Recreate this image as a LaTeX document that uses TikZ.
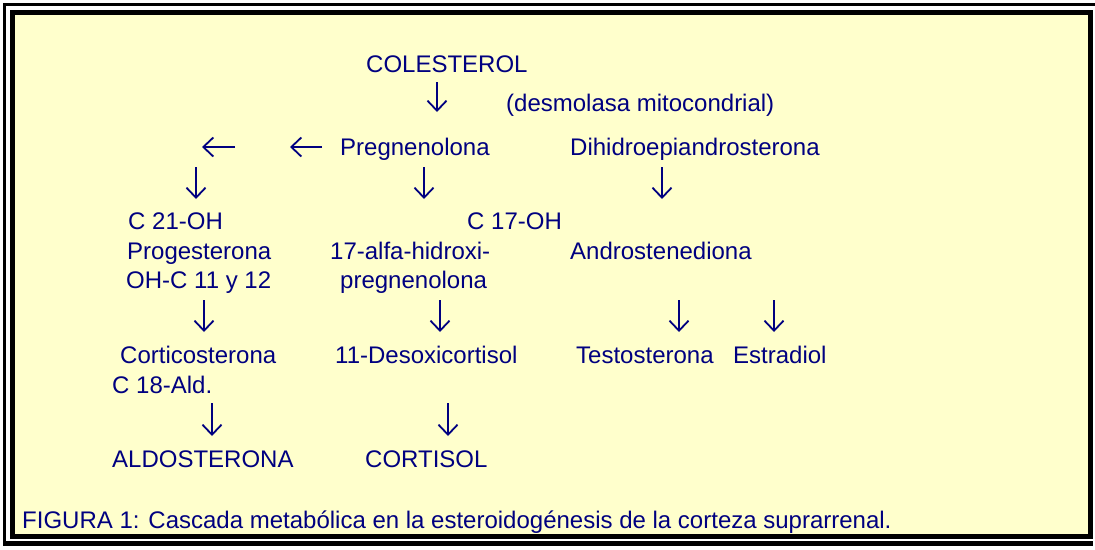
\documentclass[tikz,border=0pt]{standalone}
\usepackage{fontspec}
\setmainfont{Liberation Sans}
\usetikzlibrary{arrows.meta}
\definecolor{azul}{RGB}{0,0,128}
\definecolor{crema}{RGB}{255,255,204}
\tikzset{
    texto/.style={anchor=base west, inner sep=0pt, text=azul, font=\fontsize{24}{28}\selectfont},
    flecha/.style={draw=azul, line width=1.8pt, -{Straight Barb[length=10pt,width=19pt]}}
}
\begin{document}
\begin{tikzpicture}[x=1pt,y=-1pt]
    \useasboundingbox (0,0) rectangle (1095,549);
    % marco
    \draw[line width=3pt] (3,4.5) -- (1095,4.5);
    \draw[line width=3pt] (4.5,3) -- (4.5,546);
    \draw[line width=5pt] (3,543.5) -- (1093,543.5);
    \draw[line width=5pt, fill=crema] (12.5,12.5) rectangle (1090.5,536);

    % textos
    \node[texto] (colesterol) at (366,72) {COLESTEROL};
    \node[texto] (desmolasa) at (506,111) {(desmolasa mitocondrial)};
    \node[texto] (pregnenolona) at (340,155) {Pregnenolona};
    \node[texto] (dhea) at (570,155) {Dihidroepiandrosterona};
    \node[texto] (c21) at (128,229) {C 21-OH};
    \node[texto] (c17) at (467,229) {C 17-OH};
    \node[texto] (progesterona) at (127,259) {Progesterona};
    \node[texto] (hidroxi) at (330,259) {17-alfa-hidroxi-};
    \node[texto] (androstenediona) at (570,259) {Androstenediona};
    \node[texto] (ohc) at (126,288) {OH-C 11 y 12};
    \node[texto] (pregn2) at (340,288) {pregnenolona};
    \node[texto] (corticosterona) at (120,363) {Corticosterona};
    \node[texto] (desoxi) at (335,363) {11-Desoxicortisol};
    \node[texto] (testosterona) at (576,363) {Testosterona};
    \node[texto] (estradiol) at (733,363) {Estradiol};
    \node[texto] (c18) at (112,393) {C 18-Ald.};
    \node[texto] (aldosterona) at (112,467) {ALDOSTERONA};
    \node[texto] (cortisol) at (365,467) {CORTISOL};
    \node[texto] (figura) at (22,528) {FIGURA 1: Cascada metab\'olica en la esteroidog\'enesis de la corteza suprarrenal.};

    % flechas
    \coordinate (f1a) at (437,82);  \coordinate (f1b) at (437,112);
    \coordinate (h1a) at (235,147); \coordinate (h1b) at (202,147);
    \coordinate (h2a) at (322,147); \coordinate (h2b) at (290,147);
    \coordinate (f2a) at (196,167); \coordinate (f2b) at (196,199);
    \coordinate (f3a) at (424,167); \coordinate (f3b) at (424,199);
    \coordinate (f4a) at (662,167); \coordinate (f4b) at (662,199);
    \coordinate (f5a) at (204,300); \coordinate (f5b) at (204,332);
    \coordinate (f6a) at (440,300); \coordinate (f6b) at (440,332);
    \coordinate (f7a) at (679,300); \coordinate (f7b) at (679,332);
    \coordinate (f8a) at (774,300); \coordinate (f8b) at (774,332);
    \coordinate (f9a) at (212,403); \coordinate (f9b) at (212,436);
    \coordinate (f10a) at (448,403); \coordinate (f10b) at (448,436);

    \draw[flecha] (f1a) -- (f1b);
    \draw[flecha] (h1a) -- (h1b);
    \draw[flecha] (h2a) -- (h2b);
    \draw[flecha] (f2a) -- (f2b);
    \draw[flecha] (f3a) -- (f3b);
    \draw[flecha] (f4a) -- (f4b);
    \draw[flecha] (f5a) -- (f5b);
    \draw[flecha] (f6a) -- (f6b);
    \draw[flecha] (f7a) -- (f7b);
    \draw[flecha] (f8a) -- (f8b);
    \draw[flecha] (f9a) -- (f9b);
    \draw[flecha] (f10a) -- (f10b);
\end{tikzpicture}
\end{document}
